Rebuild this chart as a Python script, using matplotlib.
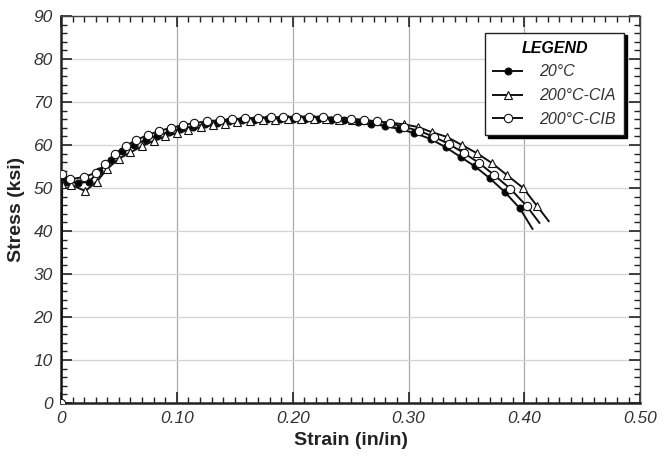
import matplotlib

matplotlib.use("Agg")

import matplotlib.pyplot as plt
from matplotlib.ticker import MultipleLocator, FixedLocator

plt.rcParams["font.family"] = ["Liberation Sans", "DejaVu Sans"]

# 20°C (filled circles) - last point is the line tail without a marker
strain_20 = [0, 0.001, 0.005, 0.015, 0.024, 0.033, 0.043, 0.053, 0.063, 0.073, 0.083, 0.093,
             0.103, 0.114, 0.124, 0.135, 0.145, 0.156, 0.167, 0.178, 0.189, 0.200, 0.211,
             0.222, 0.233, 0.244, 0.256, 0.268, 0.280, 0.292, 0.305, 0.319, 0.332, 0.345,
             0.357, 0.370, 0.383, 0.396, 0.407]
stress_20 = [0, 52.5, 51.5, 51.2, 51.4, 54.0, 56.5, 58.5, 60.0, 61.2, 62.2, 63.0,
             63.7, 64.3, 64.8, 65.2, 65.5, 65.7, 65.9, 66.0, 66.1, 66.1, 66.1,
             66.0, 65.9, 65.7, 65.4, 65.0, 64.4, 63.7, 62.8, 61.4, 59.5, 57.2,
             55.1, 52.3, 49.1, 45.3, 40.5]

# 200°C-CIA (open triangles)
strain_cia = [0, 0.001, 0.009, 0.021, 0.031, 0.040, 0.050, 0.060, 0.070, 0.080, 0.090, 0.100,
              0.110, 0.121, 0.131, 0.142, 0.152, 0.163, 0.174, 0.185, 0.196, 0.207, 0.218,
              0.229, 0.240, 0.251, 0.262, 0.273, 0.285, 0.296, 0.308, 0.320, 0.333, 0.346,
              0.359, 0.372, 0.385, 0.399, 0.411, 0.421]
stress_cia = [0, 51.0, 50.7, 49.3, 51.5, 54.5, 56.8, 58.3, 59.7, 61.0, 62.0, 62.8,
              63.5, 64.1, 64.6, 65.0, 65.3, 65.6, 65.8, 65.9, 66.0, 66.0, 66.0,
              66.0, 65.9, 65.8, 65.7, 65.5, 65.2, 64.8, 64.2, 63.0, 61.9, 60.0,
              58.1, 55.8, 53.0, 50.0, 45.8, 42.3]

# 200°C-CIB (open circles)
strain_cib = [0, 0.001, 0.008, 0.020, 0.030, 0.038, 0.047, 0.056, 0.065, 0.075, 0.085, 0.095,
              0.105, 0.115, 0.126, 0.137, 0.148, 0.159, 0.170, 0.181, 0.192, 0.203, 0.214,
              0.226, 0.238, 0.250, 0.262, 0.273, 0.284, 0.296, 0.309, 0.322, 0.335, 0.348,
              0.361, 0.374, 0.388, 0.402, 0.413]
stress_cib = [0, 53.2, 52.0, 52.6, 53.5, 55.5, 58.0, 59.8, 61.2, 62.3, 63.3, 64.0,
              64.6, 65.1, 65.5, 65.8, 66.0, 66.2, 66.3, 66.4, 66.5, 66.6, 66.6,
              66.5, 66.3, 66.1, 65.8, 65.5, 65.1, 64.2, 63.3, 61.9, 60.2, 58.1,
              55.8, 53.0, 49.8, 45.8, 41.9]

x_ticks = [0, 0.10, 0.20, 0.30, 0.40, 0.50]
x_labels = ["0", "0.10", "0.20", "0.30", "0.40", "0.50"]
y_ticks = list(range(0, 91, 10))

fig = plt.figure(figsize=(6.6, 4.65), dpi=100)
ax = fig.add_axes([0.0924, 0.1333, 0.8776, 0.8323])

series = [
    (strain_20, stress_20, "o", "black", "20°C", 5),
    (strain_cia, stress_cia, "^", "white", "200°C-CIA", 6),
    (strain_cib, stress_cib, "o", "white", "200°C-CIB", 6),
]
for xs, ys, mk, fc, lab, ms in series:
    ax.plot(xs, ys, color="#111111", lw=1.4, marker=mk, markersize=ms,
            markerfacecolor=fc, markeredgecolor="#111111", markeredgewidth=0.8,
            markevery=list(range(len(xs) - 1)), label=lab, zorder=3)

ax.set_xlim(0, 0.5)
ax.set_ylim(0, 90)
ax.xaxis.set_major_locator(FixedLocator(x_ticks))
ax.set_xticklabels(x_labels)
ax.yaxis.set_major_locator(FixedLocator(y_ticks))
ax.xaxis.set_minor_locator(MultipleLocator(0.01))
ax.yaxis.set_minor_locator(MultipleLocator(2))

ax.grid(axis="x", which="major", color="#aaaaaa", lw=0.9)
ax.grid(axis="y", which="major", color="#d4d4d4", lw=0.9)
ax.set_axisbelow(True)

ax.tick_params(which="both", direction="in", top=True, right=True, color="#222222")
ax.tick_params(which="major", length=8, width=1.2, labelsize=12.5, pad=6)
ax.tick_params(which="minor", length=4, width=1.0)
for lbl in ax.get_xticklabels() + ax.get_yticklabels():
    lbl.set_fontstyle("italic")
    lbl.set_color("#333333")

for side in ["left", "bottom"]:
    ax.spines[side].set_linewidth(1.8)
    ax.spines[side].set_color("#222222")
for side in ["top", "right"]:
    ax.spines[side].set_linewidth(1.0)
    ax.spines[side].set_color("#444444")

ax.set_xlabel("Strain (in/in)", fontsize=14, fontweight="bold", color="#222222", labelpad=4)
ax.set_ylabel("Stress (ksi)", fontsize=14, fontweight="bold", color="#222222", labelpad=6)

leg = ax.legend(loc="upper right", bbox_to_anchor=(0.972, 0.957), borderaxespad=0,
                title="LEGEND", fancybox=False, edgecolor="#222222", framealpha=1,
                shadow={"color": "black", "alpha": 1}, fontsize=11.5,
                handlelength=1.8, borderpad=0.5, labelspacing=0.55, handletextpad=1.1)
leg.get_title().set_fontweight("bold")
leg.get_title().set_fontstyle("italic")
leg.get_title().set_fontsize(11.5)
for t in leg.get_texts():
    t.set_fontstyle("italic")
    t.set_color("#333333")

fig.savefig("out.png", dpi=100)
